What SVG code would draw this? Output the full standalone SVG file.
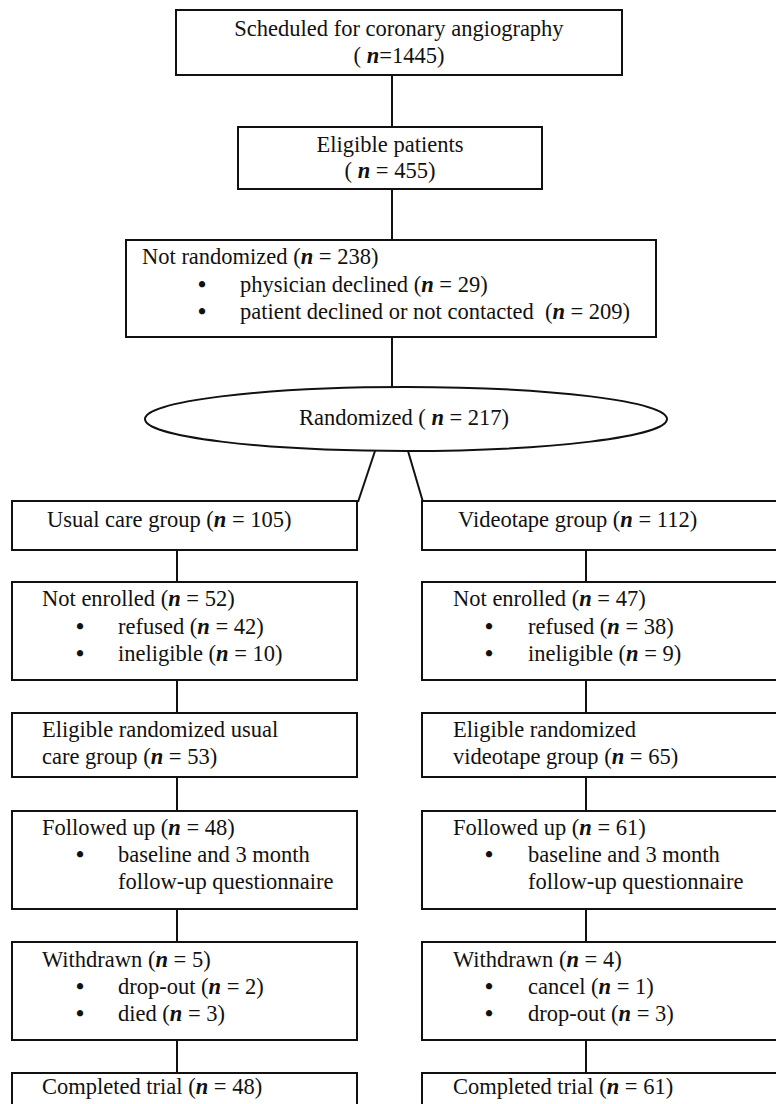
<svg xmlns="http://www.w3.org/2000/svg" width="776" height="1104" viewBox="0 0 776 1104">
<style>
.b{fill:#fff;stroke:#111;stroke-width:2}
.c{fill:none;stroke:#111;stroke-width:2}
text{font-family:"Liberation Serif","Times New Roman",serif;font-size:22.5px;fill:#111}
.m{text-anchor:middle}
.n{font-style:italic;font-weight:bold}
.d{font-size:23px;font-weight:bold}
</style>
<rect width="776" height="1104" fill="#fff"/>
<g id="connectors">
<line class="c" x1="392" y1="75" x2="392" y2="127"/>
<line class="c" x1="392" y1="189" x2="392" y2="240"/>
<line class="c" x1="392" y1="337" x2="392" y2="387"/>
<line class="c" x1="375" y1="451" x2="358" y2="502"/>
<line class="c" x1="408" y1="451" x2="423" y2="502"/>
<line class="c" x1="177" y1="550" x2="177" y2="582"/>
<line class="c" x1="177" y1="680" x2="177" y2="713"/>
<line class="c" x1="177" y1="777" x2="177" y2="811"/>
<line class="c" x1="177" y1="909" x2="177" y2="942"/>
<line class="c" x1="177" y1="1040" x2="177" y2="1073"/>
<line class="c" x1="586" y1="550" x2="586" y2="582"/>
<line class="c" x1="586" y1="680" x2="586" y2="713"/>
<line class="c" x1="586" y1="777" x2="586" y2="811"/>
<line class="c" x1="586" y1="909" x2="586" y2="942"/>
<line class="c" x1="586" y1="1040" x2="586" y2="1073"/>
</g>
<g id="scheduled">
<rect class="b" x="176" y="10" width="446" height="65"/>
<text class="m" x="399" y="36">Scheduled for coronary angiography</text>
<text class="m" x="399" y="63">( <tspan class="n">n</tspan>=1445)</text>
</g>
<g id="eligible">
<rect class="b" x="238" y="127" width="304" height="62"/>
<text class="m" x="390" y="152">Eligible patients</text>
<text class="m" x="390" y="178">( <tspan class="n">n</tspan> = 455)</text>
</g>
<g id="not-randomized">
<rect class="b" x="126" y="240" width="530" height="97"/>
<text x="142" y="264">Not randomized (<tspan class="n">n</tspan> = 238)</text>
<text class="d" x="198" y="292">•</text>
<text x="240" y="292">physician declined (<tspan class="n">n</tspan> = 29)</text>
<text class="d" x="198" y="319">•</text>
<text x="240" y="319">patient declined or not contacted&#160; (<tspan class="n">n</tspan> = 209)</text>
</g>
<g id="randomized">
<ellipse class="b" cx="406" cy="419" rx="261" ry="32"/>
<text class="m" x="404" y="425">Randomized ( <tspan class="n">n</tspan> = 217)</text>
</g>
<g id="usual-care">
<rect class="b" x="12" y="501" width="345" height="49"/>
<text x="47" y="527">Usual care group (<tspan class="n">n</tspan> = 105)</text>
</g>
<g id="videotape">
<rect class="b" x="422" y="501" width="370" height="49"/>
<text x="458" y="527">Videotape group (<tspan class="n">n</tspan> = 112)</text>
</g>
<g id="not-enrolled-usual">
<rect class="b" x="12" y="582" width="345" height="98"/>
<text x="42" y="606">Not enrolled (<tspan class="n">n</tspan> = 52)</text>
<text class="d" x="76" y="634">•</text>
<text x="118" y="634">refused (<tspan class="n">n</tspan> = 42)</text>
<text class="d" x="76" y="661">•</text>
<text x="118" y="661">ineligible (<tspan class="n">n</tspan> = 10)</text>
</g>
<g id="not-enrolled-video">
<rect class="b" x="422" y="582" width="370" height="98"/>
<text x="453" y="606">Not enrolled (<tspan class="n">n</tspan> = 47)</text>
<text class="d" x="485" y="634">•</text>
<text x="528" y="634">refused (<tspan class="n">n</tspan> = 38)</text>
<text class="d" x="485" y="661">•</text>
<text x="528" y="661">ineligible (<tspan class="n">n</tspan> = 9)</text>
</g>
<g id="eligible-usual">
<rect class="b" x="12" y="713" width="345" height="64"/>
<text x="42" y="737">Eligible randomized usual</text>
<text x="42" y="764">care group (<tspan class="n">n</tspan> = 53)</text>
</g>
<g id="eligible-video">
<rect class="b" x="422" y="713" width="370" height="64"/>
<text x="453" y="737">Eligible randomized</text>
<text x="453" y="764">videotape group (<tspan class="n">n</tspan> = 65)</text>
</g>
<g id="followed-usual">
<rect class="b" x="12" y="811" width="345" height="98"/>
<text x="42" y="835">Followed up (<tspan class="n">n</tspan> = 48)</text>
<text class="d" x="76" y="862">•</text>
<text x="118" y="862">baseline and 3 month</text>
<text x="118" y="889">follow-up questionnaire</text>
</g>
<g id="followed-video">
<rect class="b" x="422" y="811" width="370" height="98"/>
<text x="453" y="835">Followed up (<tspan class="n">n</tspan> = 61)</text>
<text class="d" x="485" y="862">•</text>
<text x="528" y="862">baseline and 3 month</text>
<text x="528" y="889">follow-up questionnaire</text>
</g>
<g id="withdrawn-usual">
<rect class="b" x="12" y="942" width="345" height="98"/>
<text x="42" y="967">Withdrawn (<tspan class="n">n</tspan> = 5)</text>
<text class="d" x="76" y="994">•</text>
<text x="118" y="994">drop-out (<tspan class="n">n</tspan> = 2)</text>
<text class="d" x="76" y="1021">•</text>
<text x="118" y="1021">died (<tspan class="n">n</tspan> = 3)</text>
</g>
<g id="withdrawn-video">
<rect class="b" x="422" y="942" width="370" height="98"/>
<text x="453" y="967">Withdrawn (<tspan class="n">n</tspan> = 4)</text>
<text class="d" x="485" y="994">•</text>
<text x="528" y="994">cancel (<tspan class="n">n</tspan> = 1)</text>
<text class="d" x="485" y="1021">•</text>
<text x="528" y="1021">drop-out (<tspan class="n">n</tspan> = 3)</text>
</g>
<g id="completed-usual">
<rect class="b" x="12" y="1073" width="345" height="40"/>
<text x="42" y="1094">Completed trial (<tspan class="n">n</tspan> = 48)</text>
</g>
<g id="completed-video">
<rect class="b" x="422" y="1073" width="370" height="40"/>
<text x="453" y="1094">Completed trial (<tspan class="n">n</tspan> = 61)</text>
</g>
</svg>
